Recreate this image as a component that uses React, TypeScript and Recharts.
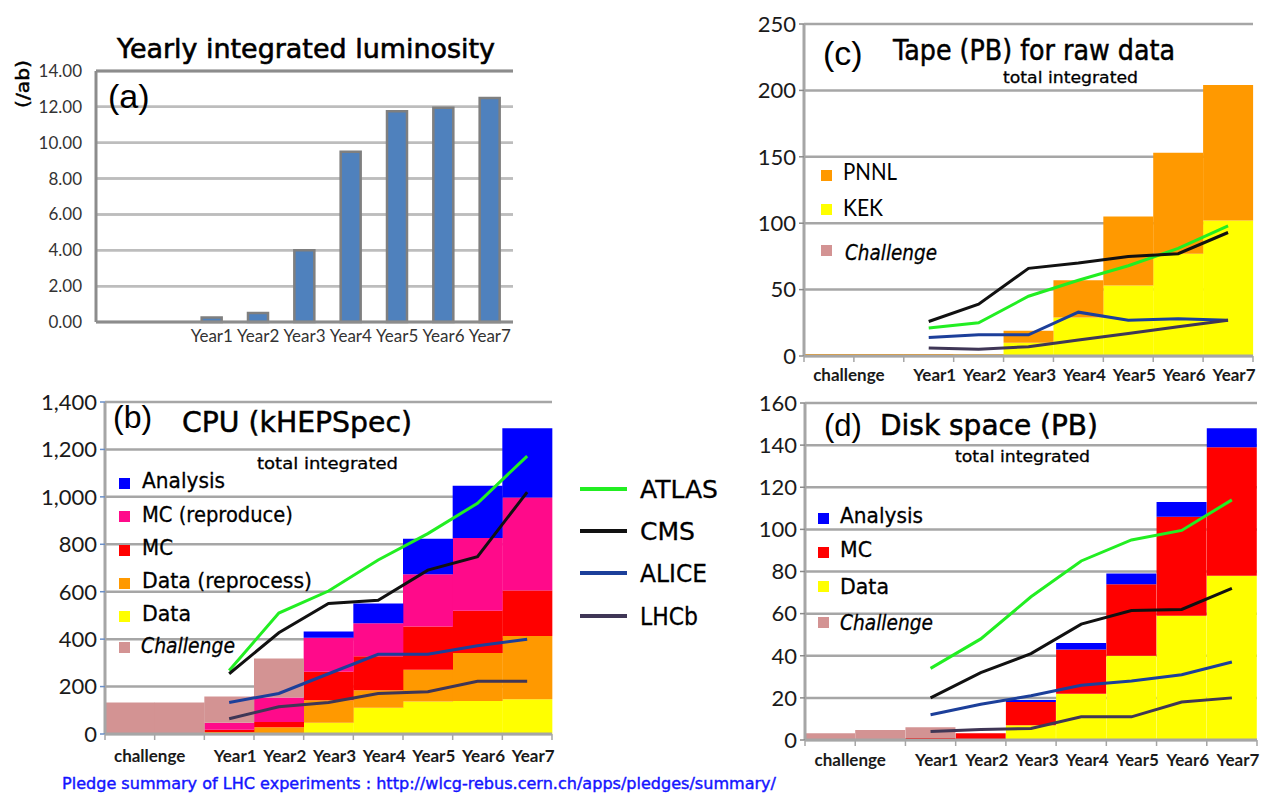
import {
  Bar,
  CartesianGrid,
  ComposedChart,
  Line,
  ReferenceLine,
  XAxis,
  YAxis,
} from "recharts";

const categories = ["challenge", "", "Year1", "Year2", "Year3", "Year4", "Year5", "Year6", "Year7"];

// (a) yearly integrated luminosity (/ab)
const luminosity = [0, 0, 0.25, 0.5, 4.0, 9.5, 11.75, 11.95, 12.5];
const lumiTicks = [0, 2, 4, 6, 8, 10, 12, 14];

// (b) CPU (kHEPSpec), total integrated
const cpuData = [0, 0, 0, 0, 47, 111, 137, 139, 147];
const cpuDataReprocess = [0, 0, 8, 28, 95, 74, 134, 203, 266];
const cpuMC = [0, 0, 10, 23, 121, 143, 182, 178, 192];
const cpuMCReproduce = [0, 0, 29, 103, 143, 139, 221, 306, 392];
const cpuAnalysis = [0, 0, 0, 0, 26, 83, 149, 221, 292];
const cpuChallenge = [133, 133, 111, 164, 0, 0, 0, 0, 0];
const cpuAtlas = [null, null, 268, 510, 603, 734, 845, 973, 1172];
const cpuCms = [null, null, 254, 427, 550, 564, 691, 748, 1020];
const cpuAlice = [null, null, 133, 171, 254, 336, 336, 372, 400];
const cpuLhcb = [null, null, 64, 115, 133, 171, 178, 222, 222];
const cpuTicks = [0, 200, 400, 600, 800, 1000, 1200, 1400];

// (c) tape (PB) for raw data
const tapeKEK = [0, 0, 0, 1, 10, 29, 53, 77, 102];
const tapePNNL = [1.5, 1.5, 1.5, 0.5, 9, 28, 52, 76, 102];
const tapeAtlas = [null, null, 21, 25, 45, 57, 68, 81, 98];
const tapeCms = [null, null, 26, 39, 66, 70, 75, 77, 93];
const tapeAlice = [null, null, 14, 16, 16, 33, 27, 28, 27];
const tapeLhcb = [null, null, 6, 5, 7, 12, 17, 22, 27];
const tapeTicks = [0, 50, 100, 150, 200, 250];

// (d) disk space (PB)
const diskData = [0, 0, 0, 0.5, 7, 22, 40, 59, 78];
const diskMC = [0, 0, 1, 2.7, 11, 21, 34, 47, 61];
const diskAnalysis = [0, 0, 0, 0, 1, 3, 5, 7, 9];
const diskChallenge = [3.2, 4.7, 5, 0, 0, 0, 0, 0, 0];
const diskAtlas = [null, null, 34, 48, 68, 85, 95, 99.5, 114];
const diskCms = [null, null, 20, 32, 41, 55, 61.5, 62, 72];
const diskAlice = [null, null, 12, 17, 21, 26, 28, 31, 37];
const diskLhcb = [null, null, 4, 5, 5.5, 11, 11, 18, 20];
const diskTicks = [0, 20, 40, 60, 80, 100, 120, 140, 160];

const C = {
  challenge: "#d39393",
  data: "#ffff00",
  reprocess: "#ff9900",
  mc: "#ff0000",
  reproduce: "#ff0a8a",
  analysis: "#0000ff",
  atlas: "#22ee22",
  cms: "#111111",
  alice: "#1c3f9a",
  lhcb: "#3f3656",
};
const GRID = "#a6a6a6";
const COMIC = "'DejaVu Sans', sans-serif";
const ARIAL = "'Liberation Sans', Arial, sans-serif";
const CAL = "Lato, 'Open Sans', sans-serif";

const lumiRows = categories.map((cat, i) => ({ cat, lumi: luminosity[i] }));
const cpuRows = categories.map((cat, i) => ({
  cat,
  data: cpuData[i],
  reprocess: cpuDataReprocess[i],
  mc: cpuMC[i],
  reproduce: cpuMCReproduce[i],
  analysis: cpuAnalysis[i],
  challenge: cpuChallenge[i],
  atlas: cpuAtlas[i],
  cms: cpuCms[i],
  alice: cpuAlice[i],
  lhcb: cpuLhcb[i],
}));
const tapeRows = categories.map((cat, i) => ({
  cat,
  kek: tapeKEK[i],
  pnnl: tapePNNL[i],
  atlas: tapeAtlas[i],
  cms: tapeCms[i],
  alice: tapeAlice[i],
  lhcb: tapeLhcb[i],
}));
const diskRows = categories.map((cat, i) => ({
  cat,
  data: diskData[i],
  mc: diskMC[i],
  analysis: diskAnalysis[i],
  challenge: diskChallenge[i],
  atlas: diskAtlas[i],
  cms: diskCms[i],
  alice: diskAlice[i],
  lhcb: diskLhcb[i],
}));

function CatTick(props: any) {
  const { x, y, payload, index, band, base, marks, fs, bold, fill, shift, showChallenge } = props;
  const v: string = payload?.value ?? "";
  const textProps = {
    y: y + base,
    textAnchor: "middle" as const,
    fontSize: fs,
    fontWeight: bold ? 700 : 400,
    fontFamily: CAL,
    fill,
  };
  let label = null;
  if (v === "challenge") {
    if (showChallenge) label = <text x={x + band / 2 - 5} {...textProps}>{v}</text>;
  } else if (v) {
    label = <text x={x + shift} {...textProps}>{v}</text>;
  }
  return (
    <g>
      {marks && <line x1={x - band / 2} x2={x - band / 2} y1={y} y2={y + 6} stroke={GRID} strokeWidth={1.5} />}
      {marks && index === categories.length - 1 && (
        <line x1={x + band / 2} x2={x + band / 2} y1={y} y2={y + 6} stroke={GRID} strokeWidth={1.5} />
      )}
      {label}
    </g>
  );
}

function frameAxis(color: string) {
  return (
    <YAxis
      key="frame"
      yAxisId="frame"
      orientation="right"
      width={0}
      domain={[0, 1]}
      tick={false}
      tickLine={false}
      axisLine={{ stroke: color, strokeWidth: 3 }}
    />
  );
}

function axes(
  ticks: number[],
  yWidth: number,
  o: { grid: string; frame: string; fmt?: (v: number) => string; tickColor: string; yFont: number; yMargin: number; yFill: string; xTick: any }
) {
  return [
    <CartesianGrid key="g" vertical={false} stroke={o.grid} strokeWidth={2.5} />,
    <XAxis
      key="x"
      dataKey="cat"
      interval={0}
      height={30}
      tickLine={false}
      tickSize={0}
      tickMargin={0}
      axisLine={{ stroke: o.frame, strokeWidth: 3 }}
      tick={o.xTick}
    />,
    <YAxis
      key="y"
      domain={[ticks[0], ticks[ticks.length - 1]]}
      ticks={ticks}
      interval={0}
      width={yWidth}
      tickSize={5}
      tickMargin={o.yMargin}
      tickLine={{ stroke: o.tickColor, strokeWidth: 1.5 }}
      axisLine={{ stroke: o.frame, strokeWidth: 3 }}
      tickFormatter={o.fmt}
      tick={{ fill: o.yFill, fontSize: o.yFont, fontFamily: CAL }}
    />,
    frameAxis(o.frame),
  ];
}

function stackedAxes(ticks: number[], yWidth: number, band: number, base: number, fmt?: (v: number) => string, tickColor = "#8a8a8a") {
  return axes(ticks, yWidth, {
    grid: GRID,
    frame: GRID,
    fmt,
    tickColor,
    yFont: 22,
    yMargin: 3,
    yFill: "#1a1a1a",
    xTick: <CatTick band={band} base={base} marks fs={17} bold fill="#1a1a1a" shift={6} showChallenge />,
  });
}

function expLines() {
  return [
    <Line key="atlas" dataKey="atlas" stroke={C.atlas} strokeWidth={3} dot={false} isAnimationActive={false} />,
    <Line key="cms" dataKey="cms" stroke={C.cms} strokeWidth={3} dot={false} isAnimationActive={false} />,
    <Line key="alice" dataKey="alice" stroke={C.alice} strokeWidth={3} dot={false} isAnimationActive={false} />,
    <Line key="lhcb" dataKey="lhcb" stroke={C.lhcb} strokeWidth={3} dot={false} isAnimationActive={false} />,
  ];
}

function Sq({ x, y, fill }: { x: number; y: number; fill: string }) {
  return <rect x={x} y={y} width={11} height={11} fill={fill} />;
}

function T(props: any) {
  const { children, family = COMIC, size = 21, italic, len, fill = "#000", thick = 0.3, ...rest } = props;
  return (
    <text
      fontFamily={family}
      fontSize={size}
      fontStyle={italic ? "italic" : "normal"}
      fill={fill}
      stroke={thick ? fill : undefined}
      strokeWidth={thick || undefined}
      textLength={len}
      lengthAdjust={len ? "spacingAndGlyphs" : undefined}
      {...rest}
    >
      {children}
    </text>
  );
}

function Overlay() {
  return (
    <svg width={1265} height={796} style={{ position: "absolute", left: 0, top: 0, pointerEvents: "none" }}>
      {/* (a) */}
      <T x={117} y={58} size={26} len={378} thick={0.6}>Yearly integrated luminosity</T>
      <T x={108} y={108} size={34} family={ARIAL} thick={0}>(a)</T>
      <T x={0} y={0} size={18} len={48} thick={0.5} textAnchor="middle" transform="translate(29,84) rotate(-90)">(/ab)</T>

      {/* (b) */}
      <T x={113} y={428} size={32} family={ARIAL} thick={0}>(b)</T>
      <T x={182} y={432} size={28} len={230} thick={0.5}>CPU (kHEPSpec)</T>
      <T x={257} y={469} size={16} len={141}>total integrated</T>
      <Sq x={119} y={478} fill={C.analysis} />
      <Sq x={119} y={511} fill={C.reproduce} />
      <Sq x={119} y={545} fill={C.mc} />
      <Sq x={119} y={578} fill={C.reprocess} />
      <Sq x={119} y={611} fill={C.data} />
      <Sq x={119} y={642} fill={C.challenge} />
      <T x={142} y={488} len={83}>Analysis</T>
      <T x={142} y={522} len={151}>MC (reproduce)</T>
      <T x={142} y={555} len={31}>MC</T>
      <T x={142} y={588} len={170}>Data (reprocess)</T>
      <T x={142} y={621} len={49}>Data</T>
      <T x={141} y={653} italic len={94}>Challenge</T>

      <line x1={580} x2={627} y1={489} y2={489} stroke={C.atlas} strokeWidth={4} />
      <line x1={580} x2={627} y1={531} y2={531} stroke={C.cms} strokeWidth={4} />
      <line x1={580} x2={627} y1={573} y2={573} stroke={C.alice} strokeWidth={4} />
      <line x1={580} x2={627} y1={616} y2={616} stroke={C.lhcb} strokeWidth={4} />
      <T x={640} y={498} size={24} len={78}>ATLAS</T>
      <T x={640} y={540} size={24} len={55}>CMS</T>
      <T x={640} y={582} size={24} len={67}>ALICE</T>
      <T x={640} y={625} size={24} len={58}>LHCb</T>

      {/* (c) */}
      <T x={823} y={65} size={34} family={ARIAL} thick={0}>(c)</T>
      <T x={893} y={60} size={28} len={282} thick={0.5}>Tape (PB) for raw data</T>
      <T x={1003} y={83} size={16} len={135}>total integrated</T>
      <Sq x={821} y={170} fill={C.reprocess} />
      <Sq x={821} y={204} fill={C.data} />
      <Sq x={821} y={245} fill={C.challenge} />
      <T x={843} y={180} size={23} family={CAL} len={54} thick={0}>PNNL</T>
      <T x={843} y={216} size={23} family={CAL} len={40} thick={0}>KEK</T>
      <T x={845} y={260} italic len={92}>Challenge</T>

      {/* (d) */}
      <T x={824} y={436} size={31} family={ARIAL} thick={0}>(d)</T>
      <T x={880} y={435} size={28} len={218} thick={0.5}>Disk space (PB)</T>
      <T x={955} y={462} size={16} len={135}>total integrated</T>
      <Sq x={818} y={513} fill={C.analysis} />
      <Sq x={818} y={547} fill={C.mc} />
      <Sq x={818} y={581} fill={C.data} />
      <Sq x={818} y={617} fill={C.challenge} />
      <T x={840} y={523} len={83}>Analysis</T>
      <T x={840} y={557} len={32}>MC</T>
      <T x={840} y={594} len={49}>Data</T>
      <T x={840} y={630} italic len={93}>Challenge</T>

      {/* footer */}
      <T x={62} y={789} size={15} fill="#1414ff" len={714} thick={0.4}>
        Pledge summary of LHC experiments : http://wlcg-rebus.cern.ch/apps/pledges/summary/
      </T>
    </svg>
  );
}

export default function App() {
  return (
    <div style={{ position: "absolute", left: 0, top: 0, width: 1265, height: 796, background: "#fff", overflow: "hidden" }}>
      {/* (a) luminosity */}
      <div style={{ position: "absolute", left: 0, top: 0 }}>
        <ComposedChart width={560} height={360} data={lumiRows} margin={{ top: 71, right: 47, bottom: 8, left: 0 }}>
          {axes(lumiTicks, 96, {
            grid: "#bdbdbd",
            frame: "#8c8c8c",
            fmt: (v: number) => v.toFixed(2),
            tickColor: "none",
            yFont: 17,
            yMargin: 9,
            yFill: "#333",
            xTick: <CatTick band={46.3} base={20} fs={17} fill="#333" shift={0} />,
          })}
          {lumiTicks.slice(1, -1).map((t) => (
            <ReferenceLine key={t} y={t} stroke="#bdbdbd" strokeWidth={2.5} zIndex={-100} />
          ))}
          <ReferenceLine y={14} stroke="#8c8c8c" strokeWidth={3} />
          <Bar dataKey="lumi" barSize={20} fill="#4f81bd" stroke="#7f7f7f" strokeWidth={2.5} isAnimationActive={false} />
        </ComposedChart>
      </div>

      {/* (b) CPU */}
      <div style={{ position: "absolute", left: 0, top: 380 }}>
        <ComposedChart width={570} height={400} data={cpuRows} margin={{ top: 22, right: 18, bottom: 16, left: 0 }} barCategoryGap={0} barGap={0}>
          {stackedAxes(cpuTicks, 105, 447 / 9, 28, (v: number) => v.toLocaleString("en-US"), "#6a8fc8")}
          <Bar dataKey="data" stackId="s" fill={C.data} isAnimationActive={false} />
          <Bar dataKey="reprocess" stackId="s" fill={C.reprocess} isAnimationActive={false} />
          <Bar dataKey="mc" stackId="s" fill={C.mc} isAnimationActive={false} />
          <Bar dataKey="reproduce" stackId="s" fill={C.reproduce} isAnimationActive={false} />
          <Bar dataKey="analysis" stackId="s" fill={C.analysis} isAnimationActive={false} />
          <Bar dataKey="challenge" stackId="s" fill={C.challenge} isAnimationActive={false} />
          {expLines()}
        </ComposedChart>
      </div>

      {/* (c) tape */}
      <div style={{ position: "absolute", left: 740, top: 0 }}>
        <ComposedChart width={525} height={390} data={tapeRows} margin={{ top: 24, right: 12, bottom: 4, left: 0 }} barCategoryGap={0} barGap={0}>
          {stackedAxes(tapeTicks, 64, 449 / 9, 25)}
          <Bar dataKey="kek" stackId="s" fill={C.data} isAnimationActive={false} />
          <Bar dataKey="pnnl" stackId="s" fill={C.reprocess} isAnimationActive={false} />
          {expLines()}
        </ComposedChart>
      </div>

      {/* (d) disk */}
      <div style={{ position: "absolute", left: 740, top: 390 }}>
        <ComposedChart width={525} height={400} data={diskRows} margin={{ top: 13, right: 8, bottom: 20, left: 0 }} barCategoryGap={0} barGap={0}>
          {stackedAxes(diskTicks, 65, 452 / 9, 26)}
          <Bar dataKey="data" stackId="s" fill={C.data} isAnimationActive={false} />
          <Bar dataKey="mc" stackId="s" fill={C.mc} isAnimationActive={false} />
          <Bar dataKey="analysis" stackId="s" fill={C.analysis} isAnimationActive={false} />
          <Bar dataKey="challenge" stackId="s" fill={C.challenge} isAnimationActive={false} />
          {expLines()}
        </ComposedChart>
      </div>

      <Overlay />
    </div>
  );
}
